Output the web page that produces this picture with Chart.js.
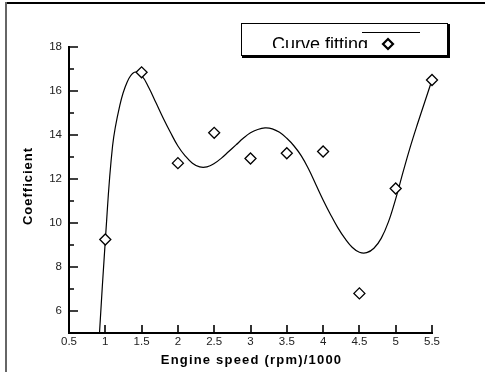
<!DOCTYPE html>
<html>
<head>
<meta charset="utf-8">
<script src="https://cdn.jsdelivr.net/npm/chart.js@4"></script>
<style>
html,body{margin:0;padding:0;background:#fff;}
#wrap{width:485px;height:372px;position:relative;}
</style>
</head>
<body>
<div id="wrap"><canvas id="c" width="485" height="372"></canvas></div>
<script>
// measured points
const engineSpeed = [1, 1.5, 2, 2.5, 3, 3.5, 4, 4.5, 5, 5.5];
const coefficient = [9.25, 16.85, 12.72, 14.1, 12.93, 13.17, 13.25, 6.8, 11.57, 16.5];
// fitted curve
const fitSpeed = [0.92, 1.0, 1.1, 1.2, 1.3, 1.4, 1.5, 1.6, 1.7, 1.8, 1.9, 2.0, 2.1, 2.2, 2.3, 2.4, 2.5, 2.6, 2.7, 2.8, 2.9, 3.0, 3.1, 3.2, 3.3, 3.4, 3.5, 3.6, 3.7, 3.8, 3.9, 4.0, 4.1, 4.2, 4.3, 4.4, 4.5, 4.6, 4.7, 4.8, 4.9, 5.0, 5.1, 5.2, 5.3, 5.4, 5.5];
const fitValue = [5.0, 9.2, 13.5, 15.35, 16.4, 16.85, 16.7, 16.15, 15.45, 14.75, 14.1, 13.5, 13.05, 12.72, 12.55, 12.55, 12.7, 12.95, 13.25, 13.55, 13.85, 14.1, 14.25, 14.32, 14.28, 14.12, 13.85, 13.5, 13.05, 12.45, 11.75, 11.05, 10.4, 9.8, 9.3, 8.9, 8.67, 8.65, 8.85, 9.3, 10.05, 11.1, 12.3, 13.45, 14.5, 15.5, 16.5];
const xTicks = [0.5, 1, 1.5, 2, 2.5, 3, 3.5, 4, 4.5, 5, 5.5];
const yTicks = [6, 8, 10, 12, 14, 16, 18];
const yMinorTicks = [7, 9, 11, 13, 15, 17];
const xTitle = 'Engine speed (rpm)/1000';
const yTitle = 'Coefficient';
const legendLabel = 'Curve fitting';

const decor = {
  id: 'decor',
  afterDraw(chart) {
    const ctx = chart.ctx;
    const xs = chart.scales.x, ys = chart.scales.y;
    const ca = chart.chartArea;
    ctx.save();
    // outer frame
    ctx.strokeStyle = '#000';
    ctx.lineWidth = 2;
    ctx.beginPath(); ctx.moveTo(5, 3); ctx.lineTo(485, 3); ctx.stroke();
    ctx.strokeStyle = '#666';
    ctx.beginPath(); ctx.moveTo(6, 2); ctx.lineTo(6, 372); ctx.stroke();
    // axes
    ctx.strokeStyle = '#000';
    ctx.lineWidth = 2;
    ctx.beginPath();
    ctx.moveTo(ca.left, ys.getPixelForValue(18) - 1);
    ctx.lineTo(ca.left, ca.bottom);
    ctx.lineTo(xs.getPixelForValue(5.5) + 1, ca.bottom);
    ctx.stroke();
    ctx.lineWidth = 1.6;
    ctx.beginPath();
    yTicks.forEach(v => { const p = Math.round(ys.getPixelForValue(v)); ctx.moveTo(ca.left, p); ctx.lineTo(ca.left + 9, p); });
    yMinorTicks.forEach(v => { const p = Math.round(ys.getPixelForValue(v)); ctx.moveTo(ca.left, p); ctx.lineTo(ca.left + 5, p); });
    xTicks.forEach(v => { const p = Math.round(xs.getPixelForValue(v)); if (v > 0.5) { ctx.moveTo(p, ca.bottom); ctx.lineTo(p, ca.bottom - 8); } });
    ctx.stroke();
    // axis titles
    ctx.fillStyle = '#000';
    ctx.font = 'bold 13px "Liberation Sans", Arial, sans-serif';
    ctx.textAlign = 'center';
    ctx.textBaseline = 'alphabetic';
    ctx.letterSpacing = '1.2px';
    ctx.fillText(xTitle, (xs.getPixelForValue(0.5) + xs.getPixelForValue(5.5)) / 2 + 1, 364);
    ctx.save();
    ctx.translate(32, 186);
    ctx.rotate(-Math.PI / 2);
    ctx.letterSpacing = '1px';
    ctx.fillText(yTitle, 0, 0);
    ctx.restore();
    ctx.letterSpacing = '0px';
    // legend box
    ctx.fillStyle = '#fff';
    ctx.fillRect(241, 23, 207, 33);
    ctx.strokeStyle = '#000';
    ctx.lineWidth = 1;
    ctx.strokeRect(241.5, 23.5, 206, 32);
    ctx.lineWidth = 2;
    ctx.beginPath(); ctx.moveTo(449, 24); ctx.lineTo(449, 57); ctx.lineTo(242, 57); ctx.stroke();
    ctx.save();
    ctx.beginPath(); ctx.rect(242, 24, 205, 24); ctx.clip();
    ctx.fillStyle = '#000';
    ctx.font = '18px "Liberation Sans", Arial, sans-serif';
    ctx.textAlign = 'left';
    ctx.fillText(legendLabel, 272, 50);
    ctx.restore();
    ctx.lineWidth = 1;
    ctx.beginPath(); ctx.moveTo(362, 32.5); ctx.lineTo(420, 32.5); ctx.stroke();
    // legend marker
    ctx.fillStyle = '#fff';
    ctx.lineWidth = 2.2;
    ctx.beginPath();
    ctx.moveTo(383, 44); ctx.lineTo(388, 39); ctx.lineTo(393, 44); ctx.lineTo(388, 49); ctx.closePath();
    ctx.fill(); ctx.stroke();
    ctx.restore();
  }
};

new Chart(document.getElementById('c'), {
  type: 'scatter',
  data: {
    datasets: [
      {
        label: 'fit',
        data: fitSpeed.map((x, i) => ({x, y: fitValue[i]})),
        showLine: true,
        borderColor: '#000',
        borderWidth: 1.2,
        pointRadius: 0,
        tension: 0.4,
        fill: false,
        order: 2
      },
      {
        label: legendLabel,
        data: engineSpeed.map((x, i) => ({x, y: coefficient[i]})),
        showLine: false,
        clip: false,
        pointStyle: 'rectRot',
        pointRadius: 5.5,
        pointBorderWidth: 1.3,
        pointBorderColor: '#000',
        pointBackgroundColor: '#fff',
        order: 1
      }
    ]
  },
  options: {
    responsive: false,
    animation: false,
    devicePixelRatio: 1,
    layout: { padding: { left: 0, top: 47, right: 53, bottom: 0 } },
    plugins: { legend: { display: false }, tooltip: { enabled: false } },
    scales: {
      x: {
        type: 'linear', min: 0.5, max: 5.5,
        grid: { display: false, drawTicks: false },
        border: { display: false },
        afterBuildTicks: s => { s.ticks = xTicks.map(v => ({value: v})); },
        afterFit: s => { s.height = 39; },
        ticks: { padding: 2, color: '#222', font: { family: '"Liberation Sans", Arial, sans-serif', size: 11.5 }, maxRotation: 0, autoSkip: false, callback: v => String(v) }
      },
      y: {
        type: 'linear', min: 5, max: 18,
        grid: { display: false, drawTicks: false },
        border: { display: false },
        afterBuildTicks: s => { s.ticks = yTicks.map(v => ({value: v})); },
        afterFit: s => { s.width = 69; },
        ticks: { padding: 7, color: '#222', font: { family: '"Liberation Sans", Arial, sans-serif', size: 11.5 }, callback: v => String(v) }
      }
    }
  },
  plugins: [decor]
});
</script>
</body>
</html>
